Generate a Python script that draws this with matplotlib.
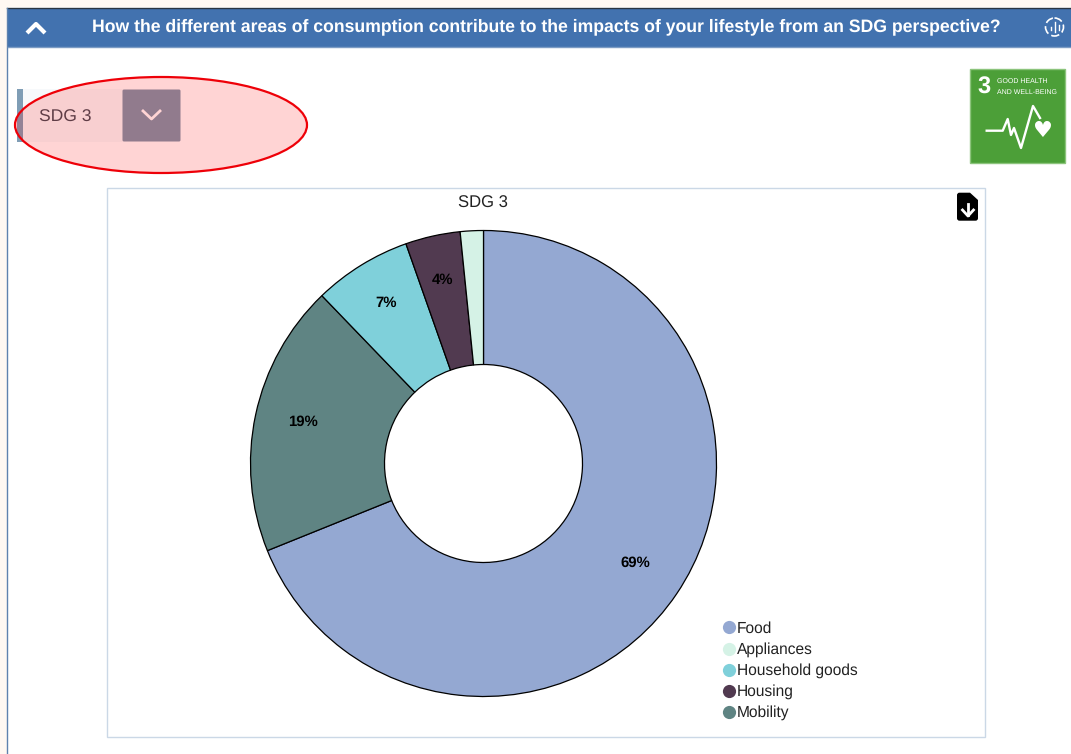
import matplotlib
matplotlib.use("Agg")
import matplotlib.pyplot as plt
from matplotlib.lines import Line2D
from matplotlib.patches import Rectangle, Ellipse, FancyBboxPatch, Circle

plt.rcParams['font.family'] = ['Liberation Sans', 'DejaVu Sans']
plt.rcParams['text.hinting'] = 'no_hinting'

W, H = 1071, 754

# legend order
categories = ["Food", "Appliances", "Household goods", "Housing", "Mobility"]
shares = [68.9, 1.6, 6.8, 3.8, 18.9]
colors = ["#94A8D2", "#D5F2E6", "#7FD0DA", "#513A50", "#5F8483"]
# order of the slices going clockwise from the top
pie_order = [0, 4, 2, 3, 1]

title = "How the different areas of consumption contribute to the impacts of your lifestyle from an SDG perspective?"
selected = "SDG 3"


def pct_label(p):
    return "%.0f%%" % p if p >= 3 else ""


fig = plt.figure(figsize=(W / 100, H / 100), dpi=100, facecolor="white")

# page furniture, in pixel coordinates
page = fig.add_axes([0, 0, 1, 1])
page.set_xlim(0, W)
page.set_ylim(H, 0)
page.axis("off")

page.add_patch(Rectangle((0, 0), W, 7, fc="#FFF8F2", ec="none"))
page.add_patch(Rectangle((0, 0), 7, H, fc="#FFF8F2", ec="none"))
page.plot([7, W], [7.5, 7.5], color="#2B3440", lw=1)
page.plot([7.3, 7.3], [8, H], color="#5F82AE", lw=1)
page.add_patch(Rectangle((8, 8), W - 8, 39, fc="#4272AF", ec="none"))
page.plot([8, W], [47.3, 47.3], color="#7C9CC4", lw=1)

page.plot([27, 36, 45], [33, 24, 33], color="white", lw=3, solid_capstyle="butt")
page.text(546, 27, title, color="white", fontsize=12.7, fontweight="bold",
          ha="center", va="center")

# small round chart icon in the header
page.add_patch(Circle((1054.5, 27), 9, fc="none", ec="white", lw=1.2, ls=(0, (5, 2))))
page.plot([1050.5, 1050.5], [27, 30], color="white", lw=1)
page.plot([1054.5, 1054.5], [22, 32], color="white", lw=1)
page.plot([1058.5, 1058.5], [25, 30], color="white", lw=1)

# dropdown
page.add_patch(Rectangle((17, 89), 6, 53, fc="#7F9DB5", ec="none"))
page.add_patch(Rectangle((23, 89), 100, 53, fc="#F7F9FB", ec="none"))
page.add_patch(FancyBboxPatch((122.5, 89.5), 58, 52, boxstyle="round,pad=0,rounding_size=1.5",
                              fc="#7B95AA", ec="none"))
page.text(39, 117, selected, color="#3F4A55", fontsize=12.6, ha="left", va="center")
page.plot([142, 151.5, 161], [110, 119, 110], color="white", lw=2, solid_capstyle="butt")

# highlight around the dropdown
page.add_patch(Ellipse((161, 125), 292, 96, fc=(1, 0, 0, 0.17), ec="#EE0008", lw=1.6, zorder=5))

# goal icon
page.add_patch(Rectangle((970.3, 69.3), 94.2, 94.2, fc="#4C9F38", ec="#8CC47C", lw=1))
page.text(984, 87.5, "3", color="white", fontsize=17, fontweight="bold", ha="center", va="center")
page.text(997, 81.5, "GOOD HEALTH", color="white", fontsize=5.0, ha="left", va="center")
page.text(997, 92, "AND WELL-BEING", color="white", fontsize=5.0, ha="left", va="center")
page.plot([986.7, 1002.7, 1007.7, 1011, 1014, 1021, 1033, 1040],
          [130.7, 130.7, 119, 135, 128, 148, 106, 118], color="white", lw=1.7)
page.text(1041.7, 131, "\u2665", color="white", fontsize=16, family="DejaVu Sans",
          ha="center", va="center")

# chart frame
page.add_patch(Rectangle((106.8, 188), 878.5, 549.3, fc="white", ec="#CBD8E6", lw=1))
page.text(483, 203, selected, color="#222222", fontsize=12, ha="center", va="center")

# download button
page.add_patch(FancyBboxPatch((957, 192.7), 21, 28, boxstyle="round,pad=0,rounding_size=2.5",
                              fc="black", ec="none"))
page.add_patch(Rectangle((970, 192), 9, 8, fc="white", ec="none"))
page.fill([970, 978, 970], [192.7, 200, 200], color="black", lw=0)
page.plot([968, 968], [204, 215], color="white", lw=2)
page.plot([962.5, 968, 973.5], [210, 216, 210], color="white", lw=2)

# donut
R = 233
cx, cy = 483.5, 463.5
ax = fig.add_axes([(cx - R - 1) / W, 1 - (cy + R + 1) / H, (2 * R + 2) / W, (2 * R + 2) / H])
ax.set_aspect("equal")
ax.axis("off")
wedges, texts, autotexts = ax.pie(
    [shares[i] for i in pie_order],
    colors=[colors[i] for i in pie_order],
    startangle=90,
    counterclock=False,
    radius=1,
    autopct=pct_label,
    pctdistance=0.79,
    wedgeprops={"width": 134 / R, "edgecolor": "black", "linewidth": 0.9},
)
ax.set_xlim(-(R + 1) / R, (R + 1) / R)
ax.set_ylim(-(R + 1) / R, (R + 1) / R)
for t in autotexts:
    t.set_fontsize(10.7)
    t.set_fontweight("bold")
    t.set_color("black")
    x, y = t.get_position()
    t.set_position((x - 0.8 / R, y + 3.5 / R))

handles = [Line2D([], [], ls="", marker="o", ms=9.5, mfc=c, mec="none") for c in colors]
fig.legend(handles, categories, loc="upper left", bbox_to_anchor=(702.5 / W, 1 - 607.3 / H),
           frameon=False, fontsize=11.2, labelspacing=0.395, handletextpad=-0.3,
           handlelength=1.6, borderpad=0.4, labelcolor="#222222")

fig.savefig("out.png", dpi=100, facecolor="white")
